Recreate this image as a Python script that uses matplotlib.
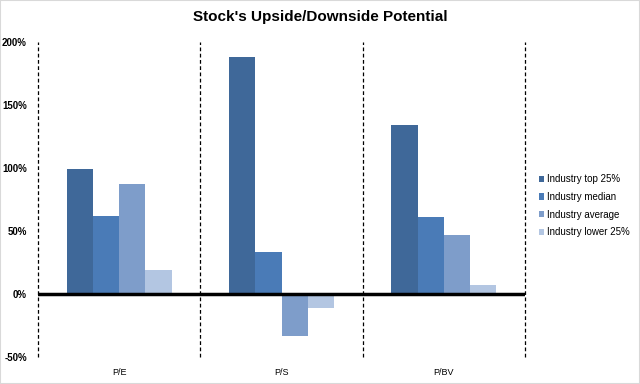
#!/usr/bin/env python3
import numpy as np
import matplotlib
matplotlib.use("Agg")
import matplotlib.pyplot as plt
from matplotlib.ticker import FuncFormatter

categories = ["P/E", "P/S", "P/BV"]
series_names = ["Industry top 25%", "Industry median", "Industry average", "Industry lower 25%"]
top25 = [99, 188, 134]
median = [62, 33, 61]
average = [87, -33, 47]
lower25 = [19, -11, 7]
colors = ["#3F6899", "#4A7BB7", "#7E9DCA", "#B3C6E2"]

plt.rcParams['font.family'] = ['Liberation Sans', 'DejaVu Sans']

def main():
	values = [top25, median, average, lower25]
	fig = plt.figure(figsize=(6.4, 3.84), dpi=100)
	ax = fig.add_axes([38/640, 1-357/384, (525-38)/640, (357-42)/384])

	x = np.arange(len(categories))
	width = 0.162
	for i, (name, vals) in enumerate(zip(series_names, values)):
		ax.bar(x + (i - 1.5) * width, vals, width, color=colors[i], label=name, zorder=2)

	ax.set_xlim(-0.5, len(categories) - 0.5)
	ax.set_ylim(-50, 200)
	ax.set_yticks([-50, 0, 50, 100, 150, 200])
	ax.yaxis.set_major_formatter(FuncFormatter(lambda v, p: "{:.0f}%".format(v)))
	ax.set_xticks(x)
	ax.set_xticklabels(categories, fontsize=6.5)
	ax.tick_params(axis='both', length=0)
	ax.tick_params(axis='y', labelsize=7, pad=8)
	ax.tick_params(axis='x', pad=8)
	for lbl in ax.get_yticklabels():
		lbl.set_fontweight('bold')

	for s in ["top", "right", "bottom", "left"]:
		ax.spines[s].set_visible(False)
	for xv in np.arange(-0.5, len(categories), 1.0):
		ax.axvline(xv, color="black", linestyle=(0, (3, 2)), linewidth=0.9, zorder=1, clip_on=False)
	ax.axhline(0, color="black", linewidth=2.5, zorder=3)

	fig.suptitle("Stock's Upside/Downside Potential", fontsize=11, fontweight='bold', y=0.975)
	ax.legend(loc='center left', bbox_to_anchor=(1.01, 0.48), frameon=False, fontsize=7,
		handlelength=0.6, handleheight=0.6, handletextpad=0.3, labelspacing=0.8)

	fig.patches.append(plt.Rectangle((0, 0), 1, 1, transform=fig.transFigure,
		fill=False, edgecolor="#D9D9D9", linewidth=1.5))
	fig.savefig("out.png", dpi=100)

if __name__ == '__main__':
	main()
